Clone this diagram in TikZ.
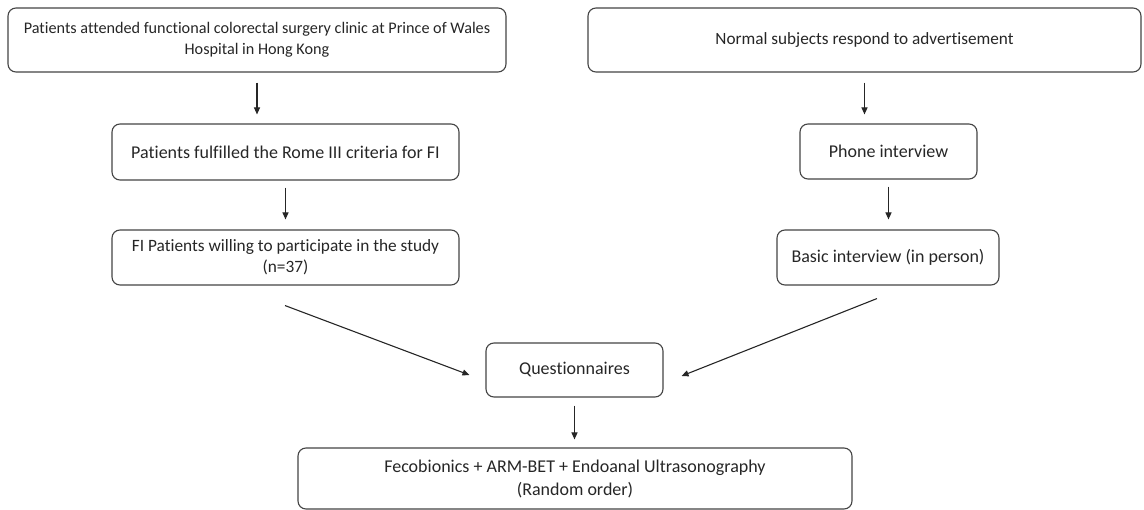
\documentclass[tikz,border=0pt]{standalone}
\usepackage{fontspec}
\setmainfont{Carlito}[Ligatures=NoCommon]
\usetikzlibrary{arrows.meta,calc}
\definecolor{boxline}{HTML}{444444}
\definecolor{txt}{HTML}{262626}
\begin{document}
\begin{tikzpicture}[x=1pt,y=-1pt,
  box/.style={draw=boxline, line width=1.1pt, rounded corners=8pt, align=center,
    inner sep=0pt, text=txt, font=\fontsize{18}{21.5}\selectfont},
  arr/.style={draw=black!85, line width=1.1pt, -{Triangle[length=7pt,width=6pt]}}]
\useasboundingbox (0,0) rectangle (1144,510);
\node[box, minimum width=498pt, minimum height=64pt, font=\fontsize{16.2}{21}\selectfont] (A) at (257,40)
  {Patients attended functional colorectal surgery clinic at Prince of Wales\\Hospital in Hong Kong};
\node[box, minimum width=553pt, minimum height=64pt, font=\fontsize{17.2}{21}\selectfont] (B) at (864.5,40)
  {Normal subjects respond to advertisement};
\node[box, minimum width=347pt, minimum height=56pt] (C) at (285.5,152)
  {Patients fulfilled the Rome III criteria for FI};
\node[box, minimum width=347pt, minimum height=55pt, font=\fontsize{17.3}{21}\selectfont] (D) at (285.5,257.5)
  {FI Patients willing to participate in the study\\(n=37)};
\node[box, minimum width=177pt, minimum height=55pt] (E) at (888.5,151.5)
  {Phone interview};
\node[box, minimum width=222pt, minimum height=55pt] (F) at (888,257.5)
  {Basic interview (in person)};
\node[box, minimum width=177pt, minimum height=54pt] (Q) at (574.5,370)
  {Questionnaires};
\node[box, minimum width=554pt, minimum height=61pt, font=\fontsize{18}{23}\selectfont] (G) at (575,478.5)
  {Fecobionics + ARM-BET + Endoanal Ultrasonography\\(Random order)};
\draw[arr, shorten <=10pt, shorten >=9pt] (A.south) -- (A.south |- C.north);
\draw[arr, shorten <=10pt, shorten >=9pt] (B.south) -- (B.south |- E.north);
\draw[arr, shorten <=7pt, shorten >=10pt] (C.south) -- (C.south |- D.north);
\draw[arr, shorten <=7pt, shorten >=10pt] (E.south) -- (E.south |- F.north);
\draw[arr, shorten <=8pt, shorten >=8pt] (Q.south) -- (Q.south |- G.north);
\coordinate (d1) at ($(D.south)+(-0.5,20)$);
\coordinate (q1) at ($(Q.west)+(-16,5)$);
\coordinate (f1) at ($(F.south)+(-11,13)$);
\coordinate (q2) at ($(Q.east)+(18,6)$);
\draw[arr] (d1) -- (q1);
\draw[arr] (f1) -- (q2);
\end{tikzpicture}
\end{document}
